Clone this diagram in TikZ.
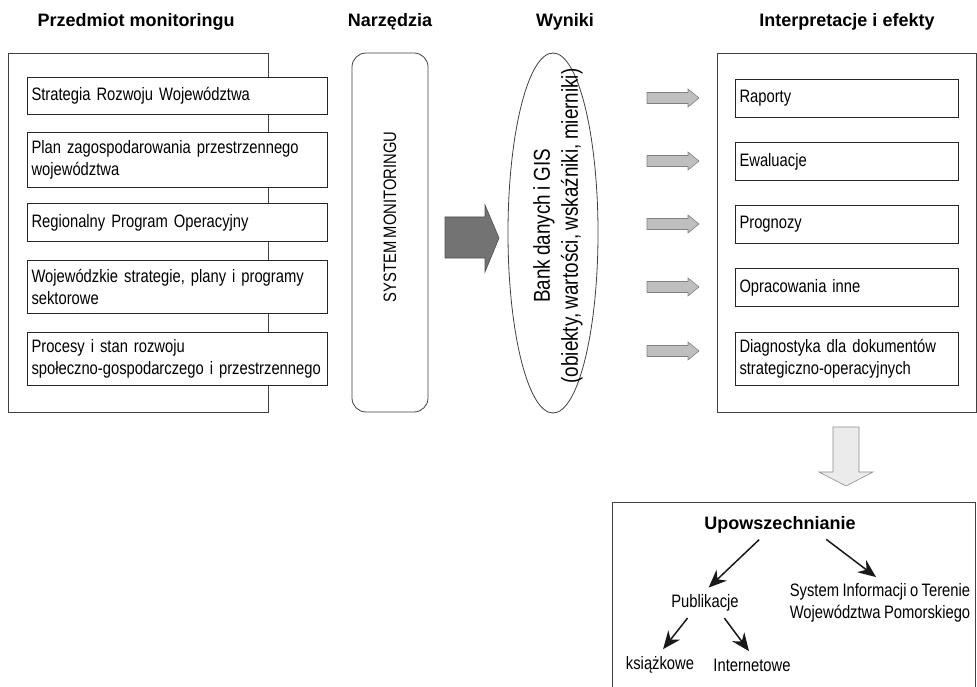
\documentclass[tikz,border=0pt]{standalone}
\usepackage{fontspec}
\setmainfont{Liberation Sans}[FakeStretch=0.82, WordSpace=0.85]
\newfontfamily\headfont{Liberation Sans}
\usetikzlibrary{arrows.meta,shapes.geometric,trees}

\tikzset{
  frame/.style={draw=black!75, line width=0.8pt},
  entry/.style={draw=black!85, fill=white, line width=1pt, anchor=north west,
    align=left, inner xsep=4pt, font=\fontsize{18}{22}\selectfont},
  lentry/.style={entry, text width=292pt, minimum width=300pt},
  rentry/.style={entry, text width=215pt, minimum width=223pt},
  heading/.style={anchor=base, font=\headfont\bfseries\fontsize{18}{22}\selectfont},
  plain/.style={font=\fontsize{18}{22}\selectfont, align=center},
  darrow/.style={draw=black!70, fill=black!55, line width=0.6pt},
  larrow/.style={draw=black!50, fill=black!25, line width=0.6pt},
  parrow/.style={draw=black!45, fill=black!8, line width=0.6pt},
  branch/.style={edge from parent path={([xshift=#1]\tikzparentnode.south) -- (\tikzchildnode.north)}}
}

\begin{document}
\begin{tikzpicture}[x=1pt, y=-1pt]
\useasboundingbox (0,0) rectangle (977,687);

% column headings
\node[heading] (hsubj) at (136,27) {Przedmiot monitoringu};
\node[heading] (htool) at (390,27) {Narzędzia};
\node[heading] (hres) at (565,27) {Wyniki};
\node[heading] (hint) at (847,27) {Interpretacje i efekty};

% subject of monitoring
\draw[frame] (8,53) rectangle (268,412);
\node[lentry, minimum height=37pt] (srw) at (27,77) {Strategia Rozwoju Województwa};
\node[lentry, minimum height=55pt] (pzp) at (27,132) {Plan zagospodarowania przestrzennego\\województwa};
\node[lentry, minimum height=38pt] (rpo) at (27,203) {Regionalny Program Operacyjny};
\node[lentry, minimum height=53pt] (wsp) at (27,260) {Wojewódzkie strategie, plany i programy\\sektorowe};
\node[lentry, minimum height=53pt] (psr) at (27,332) {Procesy i stan rozwoju\\społeczno-gospodarczego i przestrzennego};

% tools
\node[draw=black!75, line width=0.8pt, rounded corners=14pt, minimum width=76pt, minimum height=359pt] (tool) at (390,232.5) {};
\node[plain, rotate=90] (toollab) at (390,217) {SYSTEM MONITORINGU};

\draw[darrow] (445,217) -- (485,217) -- (485,205) -- (499,238) -- (485,272) -- (485,258) -- (445,258) -- cycle;

% results
\node[draw=black!75, line width=0.8pt, ellipse, minimum width=90pt, minimum height=360pt] (bank) at (553,233) {};
\node[plain, rotate=90, font=\fontsize{23}{28}\selectfont] (banklab) at (558,226) {Bank danych i GIS\\(obiekty, wartości, wskaźniki, mierniki)};

\foreach \y in {98,161,224,287,351}
  \draw[larrow] (647,\y-5.5) -- (688,\y-5.5) -- (688,\y-9) -- (699,\y) -- (688,\y+9) -- (688,\y+5.5) -- (647,\y+5.5) -- cycle;

% interpretations
\draw[frame] (717,53) rectangle (976,412);
\node[rentry, minimum height=38pt] (rap) at (735,79) {Raporty};
\node[rentry, minimum height=38pt] (ewa) at (735,142) {Ewaluacje};
\node[rentry, minimum height=38pt] (pro) at (735,205) {Prognozy};
\node[rentry, minimum height=38pt] (opr) at (735,268) {Opracowania inne};
\node[rentry, minimum height=53pt] (dia) at (735,332) {Diagnostyka dla dokumentów\\strategiczno-operacyjnych};

\draw[parrow] (833,427) -- (859,427) -- (859,472) -- (873,472) -- (846,486) -- (819,472) -- (833,472) -- cycle;

% dissemination
\draw[frame] (612,687) -- (612,502) -- (975,502) -- (975,687);
\begin{scope}[every node/.style={plain},
    level 1/.style={grow via three points={one child at (0,78) and two children at (-75,78) and (100,78)}},
    level 2/.style={grow via three points={one child at (0,62) and two children at (-45,62) and (47,62)}},
    edge from parent/.style={draw=black!90, line width=1.5pt, -{Stealth[length=18pt, width=15pt]},
      shorten <=4pt, shorten >=5pt}]
  \node[heading, anchor=center] (upow) at (780,525) {Upowszechnianie}
    child[branch=-18pt] {node (publ) {Publikacje}
      child[branch=-15pt] {node (ksiaz) {książkowe}}
      child[branch=17pt] {node (inet) {Internetowe}}
    }
    child[branch=43pt] {node (sit) {System Informacji o Terenie\\Województwa Pomorskiego}};
\end{scope}
\end{tikzpicture}
\end{document}
